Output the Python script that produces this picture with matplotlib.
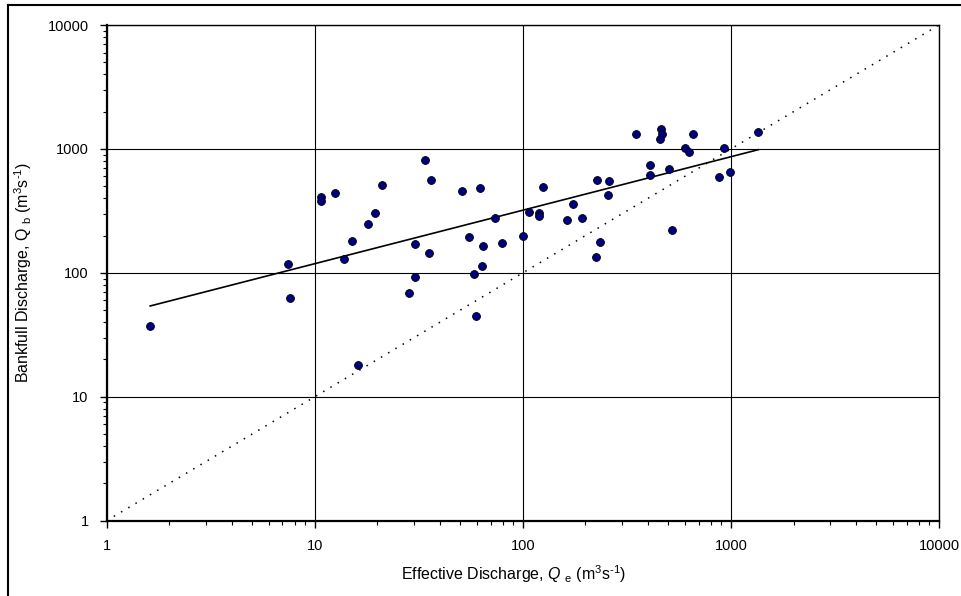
import numpy as np
import matplotlib
matplotlib.use("Agg")
import matplotlib.pyplot as plt
from matplotlib.ticker import FuncFormatter, LogLocator, NullFormatter
from matplotlib.lines import Line2D

plt.rcParams['font.family'] = ['Liberation Sans', 'DejaVu Sans']
plt.rcParams['mathtext.fontset'] = 'custom'
plt.rcParams['mathtext.rm'] = 'Liberation Sans'
plt.rcParams['mathtext.it'] = 'Liberation Sans:italic'
plt.rcParams['axes.unicode_minus'] = False

# Effective discharge Qe and bankfull discharge Qb (m3/s)
qe = [1.62, 7.47, 7.61, 10.7, 10.7, 12.5, 21.0, 19.5, 18.0, 15.1,
      13.8, 33.8, 36.2, 30.3, 35.3, 30.2, 28.5, 50.9, 62.5, 73.5,
      55.0, 64.2, 79.4, 63.5, 58.1, 59.8, 16.2, 99.9, 107.5, 120,
      120, 124.6, 163, 174, 192.5, 227, 260, 256, 235, 225.6,
      349, 408, 408, 463, 465, 458, 506, 523, 602, 631,
      660, 926, 877, 987, 1354]
qb = [37.5, 117, 62.4, 412, 380, 439, 509, 306, 247, 181,
      129.5, 815, 559, 172, 146, 92.7, 68.8, 461, 482, 279,
      196, 165, 174, 113.7, 97.5, 44.6, 18.0, 200, 312, 303,
      286, 491, 266, 360, 279, 562, 552, 425, 179, 134,
      1321, 747, 613, 1459, 1314, 1197, 690, 221, 1024, 951,
      1314, 1019, 591, 652, 1364]

# power-law trend line Qb = a * Qe^b
fit_a = 43.9
fit_b = 0.4316

fig = plt.figure(figsize=(9.61, 5.96), dpi=100)
ax = fig.add_axes([0.1109, 0.1263, 0.8662, 0.8317])

ax.set_xscale('log')
ax.set_yscale('log')
ax.set_xlim(1, 10000)
ax.set_ylim(1, 10000)

# 1:1 line
ax.plot([1, 10000], [1, 10000], color='black', lw=1.1, linestyle=(0, (1, 4.5)), zorder=2)

# trend line over the data range
xfit = np.array([min(qe), max(qe)])
ax.plot(xfit, fit_a * xfit ** fit_b, color='black', lw=1.2, zorder=3)

ax.scatter(qe, qb, s=32, color='#000080', edgecolors='black', linewidths=0.6, zorder=4)

ax.grid(True, which='major', color='black', lw=0.8)
ax.set_axisbelow(True)

fmt = FuncFormatter(lambda v, p: f'{v:g}')
for axis in (ax.xaxis, ax.yaxis):
    axis.set_major_locator(LogLocator(base=10, numticks=10))
    axis.set_minor_locator(LogLocator(base=10, subs=np.arange(2, 10), numticks=50))
    axis.set_major_formatter(fmt)
    axis.set_minor_formatter(NullFormatter())

ax.tick_params(which='major', direction='out', length=5, width=1, labelsize=10.5, pad=8)
ax.tick_params(which='minor', direction='out', length=3, width=0.8)

for s in ax.spines.values():
    s.set_color('black')
    s.set_linewidth(1)
ax.spines['left'].set_linewidth(1.6)
ax.spines['bottom'].set_linewidth(1.6)

ax.set_xlabel(r'Effective Discharge, $\mathit{Q}$ $_{\rm e}$ (m$^3$s$^{\text{-1}}$)', fontsize=11.5)
ax.set_ylabel(r'Bankfull Discharge, Q $_{\rm b}$ (m$^3$s$^{\text{-1}}$)', fontsize=11.5, labelpad=10)
ax.xaxis.set_label_coords(0.489, -0.086)

# chart-area frame (left and top edges visible)
fig.add_artist(Line2D([8 / 961, 8 / 961], [0, 1 - 5 / 596], transform=fig.transFigure, color='black', lw=1.5))
fig.add_artist(Line2D([8 / 961, 1], [1 - 5 / 596, 1 - 5 / 596], transform=fig.transFigure, color='black', lw=1.5))

fig.savefig('out.png', dpi=100)
